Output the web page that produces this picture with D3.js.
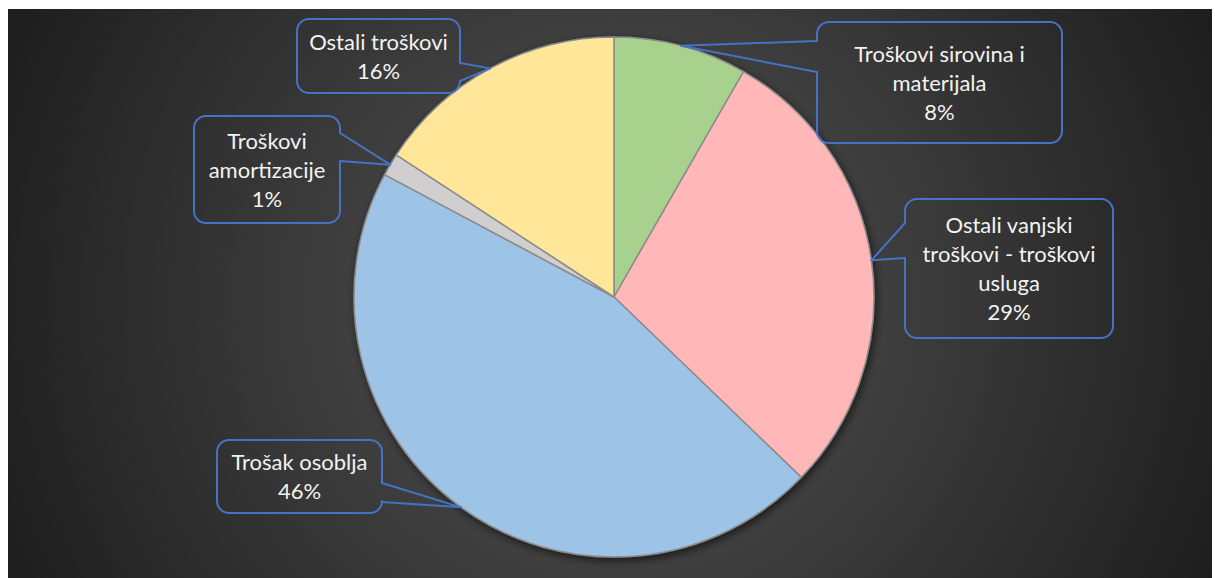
<!DOCTYPE html>
<html>
<head>
<meta charset="utf-8">
<script src="https://cdn.jsdelivr.net/npm/d3@7"></script>
<style>
  body { margin: 0; background: #ffffff; }
  text { font-family: Lato, "Open Sans", sans-serif; }
</style>
</head>
<body>
<div id="container"></div>
<script>
let w = 1215;
let h = 578;

// data (clockwise from 12 o'clock)
let categories = ["Troškovi sirovina i materijala", "Ostali vanjski troškovi - troškovi usluga",
                  "Trošak osoblja", "Troškovi amortizacije", "Ostali troškovi"];
let values = [8.3, 28.9, 45.6, 1.4, 15.8];
// wrapped label lines, as in the callouts
let labelLines = [
  ["Troškovi sirovina i", "materijala"],
  ["Ostali vanjski", "troškovi - troškovi", "usluga"],
  ["Trošak osoblja"],
  ["Troškovi", "amortizacije"],
  ["Ostali troškovi"]
];
let colors = ["#a9d18e", "#ffb7b7", "#9dc3e6", "#d0cece", "#ffe699"];

// callout boxes: box + where the wedge leaves the box
let callouts = [
  {x: 817, y: 22,  w: 245, h: 121, side: "left",  b1: 41,  b2: 72},
  {x: 905, y: 199, w: 208, h: 139, side: "left",  b1: 223, b2: 258},
  {x: 217, y: 440, w: 165, h: 73,  side: "right", b1: 483, b2: 502},
  {x: 194, y: 116, w: 146, h: 107, side: "right", b1: 133, b2: 161},
  {x: 297, y: 19,  w: 163, h: 74,  side: "right", b1: 63,  b2: 81}
];

let cx = 614, cy = 297, radius = 260;
let lineH = 29;

let viz = d3.select("#container")
  .append("svg")
    .attr("width", w)
    .attr("height", h);

let defs = viz.append("defs");
let grad = defs.append("radialGradient")
    .attr("id", "bg")
    .attr("gradientUnits", "userSpaceOnUse")
    .attr("cx", 612).attr("cy", 300).attr("r", 660);
grad.append("stop").attr("offset", 0).attr("stop-color", "#555555");
grad.append("stop").attr("offset", 1).attr("stop-color", "#1e1e1e");

let shadow = defs.append("filter").attr("id", "shadow")
    .attr("x", "-20%").attr("y", "-20%").attr("width", "140%").attr("height", "140%");
shadow.append("feDropShadow")
    .attr("dx", 2).attr("dy", 3).attr("stdDeviation", 4)
    .attr("flood-color", "#000").attr("flood-opacity", 0.6);

viz.append("rect")
    .attr("x", 8).attr("y", 9)
    .attr("width", w - 11).attr("height", h - 9)
    .attr("fill", "url(#bg)");

let pie = d3.pie().sort(null).value(function(d){ return d; });
let arcs = pie(values);
let arc = d3.arc().innerRadius(0).outerRadius(radius);

let pieGroup = viz.append("g")
    .attr("transform", "translate(" + cx + "," + cy + ")")
    .attr("filter", "url(#shadow)");

pieGroup.selectAll(".slice").data(arcs).enter()
  .append("path")
    .attr("class", "slice")
    .attr("d", arc)
    .attr("fill", function(d, i){ return colors[i]; })
    .attr("stroke", "#8c8c8c")
    .attr("stroke-width", 1.5)
    .attr("stroke-linejoin", "round");

// callout outline with a wedge pointing to the slice
function calloutPath(c, tip){
  let r = 12;
  let p = d3.path();
  p.moveTo(c.x + r, c.y);
  p.lineTo(c.x + c.w - r, c.y);
  p.arcTo(c.x + c.w, c.y, c.x + c.w, c.y + r, r);
  if(c.side == "right"){
    p.lineTo(c.x + c.w, c.b1);
    p.lineTo(tip[0], tip[1]);
    p.lineTo(c.x + c.w, c.b2);
  }
  p.lineTo(c.x + c.w, c.y + c.h - r);
  p.arcTo(c.x + c.w, c.y + c.h, c.x + c.w - r, c.y + c.h, r);
  p.lineTo(c.x + r, c.y + c.h);
  p.arcTo(c.x, c.y + c.h, c.x, c.y + c.h - r, r);
  if(c.side == "left"){
    p.lineTo(c.x, c.b2);
    p.lineTo(tip[0], tip[1]);
    p.lineTo(c.x, c.b1);
  }
  p.lineTo(c.x, c.y + r);
  p.arcTo(c.x, c.y, c.x + r, c.y, r);
  p.closePath();
  return p.toString();
}

let labelGroup = viz.append("g");

arcs.forEach(function(d, i){
  let c = callouts[i];
  let mid = (d.startAngle + d.endAngle) / 2;
  let tip = [cx + radius * Math.sin(mid), cy - radius * Math.cos(mid)];

  labelGroup.append("path")
      .attr("d", calloutPath(c, tip))
      .attr("fill", "none")
      .attr("stroke", "#4472c4")
      .attr("stroke-width", 2)
      .attr("stroke-linejoin", "round");

  let lines = labelLines[i].concat([Math.round(values[i]) + "%"]);
  let tx = c.x + c.w / 2;
  let firstY = c.y + c.h / 2 - (lines.length - 1) * lineH / 2 + 8;
  let t = labelGroup.append("text")
      .attr("text-anchor", "middle")
      .attr("fill", "#f2f2f2")
      .attr("font-size", 22);
  lines.forEach(function(line, k){
    t.append("tspan")
      .attr("x", tx)
      .attr("y", firstY + k * lineH)
      .text(line);
  });
});
</script>
</body>
</html>
